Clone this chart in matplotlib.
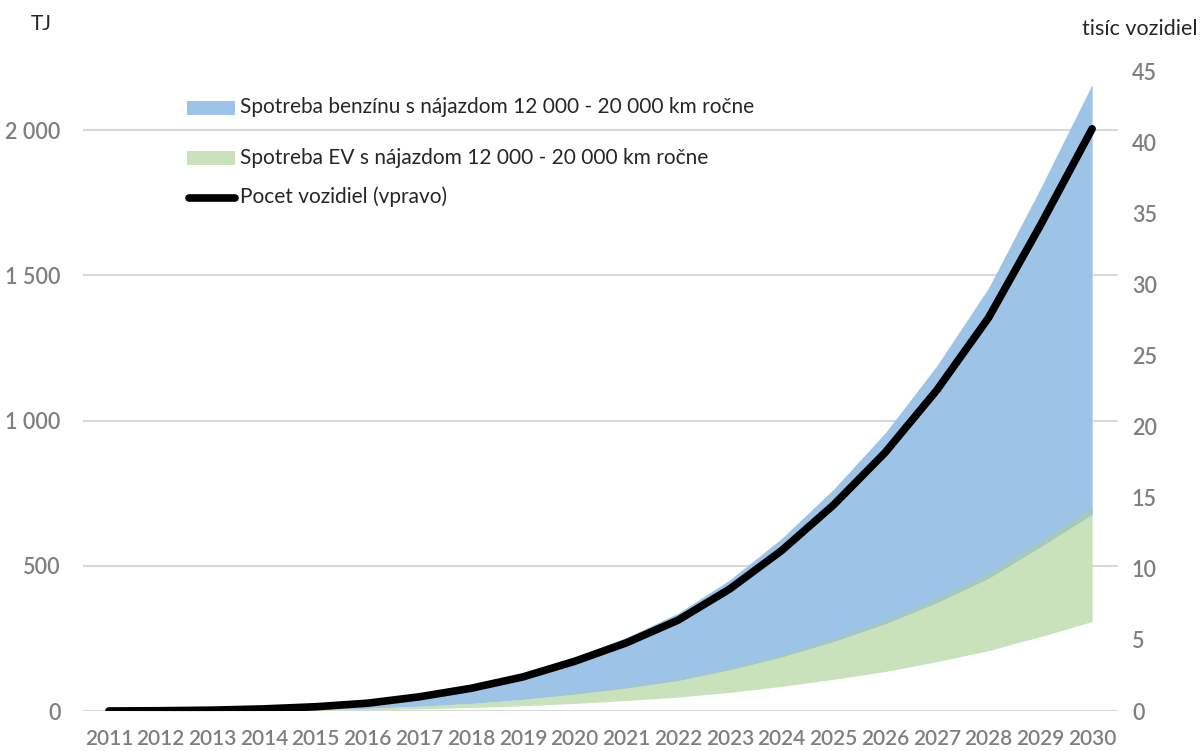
import matplotlib
matplotlib.use("Agg")
import matplotlib.pyplot as plt
from matplotlib.patches import Rectangle
from matplotlib.lines import Line2D
from matplotlib.ticker import FuncFormatter, MultipleLocator

plt.rcParams['font.family'] = ['Lato', 'DejaVu Sans']

years = list(range(2011, 2031))

# thousand vehicles (right axis)
vehicles = [0.0, 0.02, 0.06, 0.15, 0.3, 0.55, 1.0, 1.6, 2.4, 3.5,
            4.8, 6.4, 8.6, 11.3, 14.5, 18.2, 22.6, 27.7, 34.2, 41.0]

# petrol consumption band, TJ
petrol_low = [0, 0.3, 1, 2.5, 4.8, 9.1, 16.4, 26, 40, 58,
              79, 105, 142, 186, 239, 300, 373, 457, 565, 677]
petrol_high = [0, 1, 3, 8, 16, 29, 53, 84, 126, 184,
               253, 337, 452, 594, 763, 957, 1189, 1457, 1799, 2157]

# EV consumption band, TJ
ev_low = [0, 0.15, 0.45, 1.1, 2.3, 4.1, 7.5, 12, 18, 26,
          36, 48, 64, 85, 109, 136, 170, 208, 256, 308]
ev_high = [0, 0.3, 1, 2.6, 5, 9.4, 17, 27, 41, 60,
           82, 109, 147, 193, 248, 311, 386, 474, 585, 702]

legend_labels = [
    "Spotreba benzínu s nájazdom 12 000 - 20 000 km ročne",
    "Spotreba EV s nájazdom 12 000 - 20 000 km ročne",
    "Pocet vozidiel (vpravo)",
]

BLUE = "#9DC3E6"
GREEN = "#C9E2BC"
MIX = "#A6CABA"
GRAY = "#7F7F7F"
TEXT = "#262626"

W, H = 1200, 751
fig = plt.figure(figsize=(W / 100, H / 100), dpi=100)
ax = fig.add_axes([83 / W, 1 - 711 / H, (1118 - 83) / W, (711 - 72) / H])
ax2 = ax.twinx()

overlap_top = [min(a, b) for a, b in zip(ev_high, petrol_high)]
ax.fill_between(years, petrol_low, petrol_high, color=BLUE, lw=0, zorder=2)
ax.fill_between(years, ev_low, petrol_low, color=GREEN, lw=0, zorder=2)
ax.fill_between(years, petrol_low, overlap_top, color=MIX, lw=0, zorder=3)

ax2.plot(years, vehicles, color="black", lw=5.5, solid_capstyle="round", zorder=5)

ax.set_xlim(2010.5, 2030.5)
ax.set_ylim(0, 2200)
ax2.set_ylim(0, 45)

ax.yaxis.set_major_locator(MultipleLocator(500))
ax.yaxis.set_major_formatter(FuncFormatter(lambda v, p: f"{int(v):,}".replace(",", " ")))
ax2.yaxis.set_major_locator(MultipleLocator(5))
ax.set_xticks(years)
ax.set_xticklabels([str(y) for y in years])

ax.grid(axis="y", color="#D9D9D9", lw=1.5, zorder=0)
ax.set_axisbelow(True)
for a in (ax, ax2):
    for s in a.spines.values():
        s.set_visible(False)
    a.tick_params(length=0, colors=GRAY, labelsize=15.5)
ax.tick_params(axis="y", pad=16)
ax2.tick_params(axis="y", pad=10)
ax.tick_params(axis="x", pad=13, labelsize=15)
for lab in ax.get_xticklabels() + ax.get_yticklabels() + ax2.get_yticklabels():
    lab.set_fontweight("semibold")

fig.text(41 / W, 1 - 24 / H, "TJ", fontsize=15, color=TEXT, ha="center", va="center")
fig.text(1197 / W, 1 - 29 / H, "tisíc vozidiel", fontsize=15.5, color=TEXT, ha="right", va="center")

# legend
def fx(x):
    return x / W

def fy(y):
    return 1 - y / H

fig.add_artist(Rectangle((fx(187), fy(115)), fx(48), 14 / H, color=BLUE, lw=0))
fig.add_artist(Rectangle((fx(187), fy(165)), fx(48), 14 / H, color=GREEN, lw=0))
fig.add_artist(Line2D([fx(189), fx(235)], [fy(198), fy(198)], color="black", lw=5.5,
                      solid_capstyle="round"))
for yy, lab in zip([107, 158, 197], legend_labels):
    fig.text(fx(240), fy(yy), lab, fontsize=15, color=TEXT, ha="left", va="center")

fig.savefig("out.png", dpi=100)
